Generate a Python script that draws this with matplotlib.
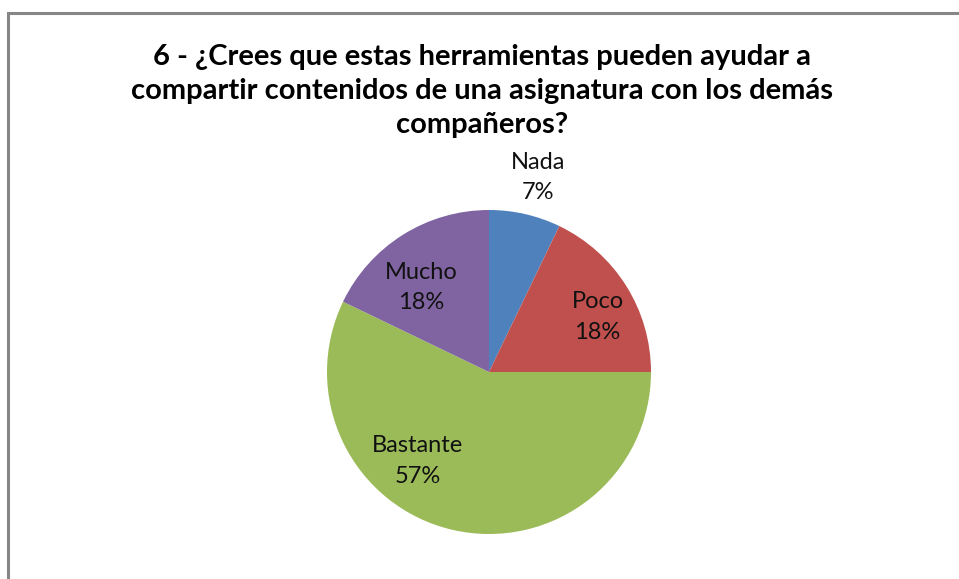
import numpy as np
import matplotlib
matplotlib.use("Agg")
import matplotlib.pyplot as plt
from matplotlib.patches import Rectangle

labels = ["Nada", "Poco", "Bastante", "Mucho"]
counts = [2, 5, 16, 5]
colors = ["#4F81BD", "#C0504D", "#9BBB59", "#8064A2"]
title = "6 - ¿Crees que estas herramientas pueden ayudar a\ncompartir contenidos de una asignatura con los demás\ncompañeros?"

# label centres (fraction of radius), roughly where Excel put them
label_pos = [(0.30, 1.20), (0.67, 0.34), (-0.44, -0.55), (-0.42, 0.52)]

plt.rcParams['font.family'] = ['Lato', 'DejaVu Sans']

W, H = 959, 579
fig = plt.figure(figsize=(W / 100, H / 100), dpi=100)

# outer chart frame (cut off at right and bottom)
fig.patches.append(Rectangle((8 / W, -0.1), 1.2, 1 - 13 / H + 0.1,
                             transform=fig.transFigure, fill=False,
                             edgecolor="#868686", linewidth=2.2, clip_on=False))

cx, cy, r = 489, 372, 162
ax = fig.add_axes([(cx - r) / W, (H - cy - r) / H, 2 * r / W, 2 * r / H])
ax.pie(counts, colors=colors, startangle=90, counterclock=False, radius=1,
       wedgeprops=dict(linewidth=0))
ax.set_xlim(-1, 1)
ax.set_ylim(-1, 1)
ax.set_aspect("equal")
ax.axis("off")

total = sum(counts)
for lab, c, (x, y) in zip(labels, counts, label_pos):
    ax.text(x, y, f"{lab}\n{round(100 * c / total)}%", ha="center", va="center",
            fontsize=17, color="#111111", linespacing=1.55, clip_on=False)

fig.text(482 / W, 1 - 91 / H, title, ha="center", va="center", fontsize=21,
         fontweight="bold", linespacing=1.36)

fig.savefig("out.png", dpi=100)
